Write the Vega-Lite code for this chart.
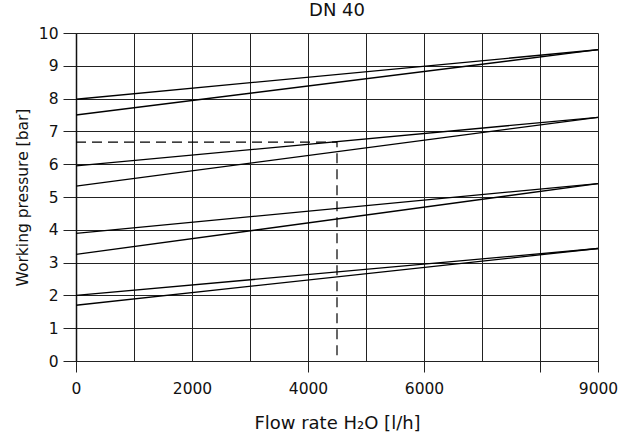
{
  "$schema": "https://vega.github.io/schema/vega-lite/v6.json",
  "width": 522,
  "height": 328,
  "autosize": {"type": "none"},
  "padding": {"left": 76, "top": 33, "right": 26, "bottom": 76},
  "background": "white",
  "config": {
    "font": "DejaVu Sans",
    "view": {"stroke": null},
    "axis": {"labelFont": "DejaVu Sans", "titleFont": "DejaVu Sans", "labelColor": "#111", "titleColor": "#111", "titleFontWeight": "normal", "labelFontSize": 15.5, "titleFontSize": 17.5, "labelOverlap": false}
  },
  "title": {"text": "DN 40", "fontSize": 18, "fontWeight": "normal", "font": "DejaVu Sans", "color": "#111", "anchor": "middle", "offset": 6},
  "datasets": {
    "curves": [
      {"series": "a1", "flow": 0, "pressure": 7.98},
      {"series": "a1", "flow": 9000, "pressure": 9.49},
      {"series": "a2", "flow": 0, "pressure": 7.5},
      {"series": "a2", "flow": 9000, "pressure": 9.49},
      {"series": "b1", "flow": 0, "pressure": 5.95},
      {"series": "b1", "flow": 9000, "pressure": 7.43},
      {"series": "b2", "flow": 0, "pressure": 5.33},
      {"series": "b2", "flow": 9000, "pressure": 7.43},
      {"series": "c1", "flow": 0, "pressure": 3.89},
      {"series": "c1", "flow": 9000, "pressure": 5.41},
      {"series": "c2", "flow": 0, "pressure": 3.25},
      {"series": "c2", "flow": 9000, "pressure": 5.41},
      {"series": "d1", "flow": 0, "pressure": 2.0},
      {"series": "d1", "flow": 9000, "pressure": 3.43},
      {"series": "d2", "flow": 0, "pressure": 1.7},
      {"series": "d2", "flow": 9000, "pressure": 3.43}
    ],
    "guide": [
      {"step": 1, "flow": 0, "pressure": 6.67},
      {"step": 2, "flow": 4500, "pressure": 6.67},
      {"step": 3, "flow": 4500, "pressure": 0}
    ]
  },
  "layer": [
    {
      "data": {"name": "curves"},
      "mark": {"type": "line", "color": "black", "strokeWidth": 1.3},
      "encoding": {
        "x": {
          "field": "flow", "type": "quantitative",
          "scale": {"domain": [0, 9000], "nice": false},
          "axis": {
            "title": "Flow rate H₂O [l/h]",
            "titleFontSize": 18,
            "values": [0, 1000, 2000, 3000, 4000, 5000, 6000, 7000, 8000, 9000],
            "format": "d",
            "labelExpr": "indexof([0, 2000, 4000, 6000, 9000], datum.value) >= 0 ? datum.label : ''",
            "grid": true, "gridColor": "#222", "gridOpacity": 1, "gridWidth": 1,
            "domain": true, "domainColor": "#222", "domainWidth": 1,
            "ticks": true, "tickSize": 11, "tickColor": "#222",
            "tickOpacity": {"condition": {"test": "indexof([0, 4000, 6000, 8000, 9000], datum.value) >= 0", "value": 1}, "value": 0},
            "labelPadding": 9, "titlePadding": 18, "labelFlush": false
          }
        },
        "y": {
          "field": "pressure", "type": "quantitative",
          "scale": {"domain": [0, 10], "nice": false},
          "axis": {
            "title": "Working pressure [bar]",
            "titleFontSize": 15.5,
            "values": [0, 1, 2, 3, 4, 5, 6, 7, 8, 9, 10],
            "tickCount": 11,
            "grid": true, "gridColor": "#222", "gridOpacity": 1, "gridWidth": 1,
            "domain": true, "domainColor": "#111", "domainWidth": 1.5,
            "ticks": true, "tickSize": 13, "tickColor": "#222",
            "labelPadding": 5, "titlePadding": 8
          }
        },
        "detail": {"field": "series"}
      }
    },
    {
      "data": {"name": "guide"},
      "mark": {"type": "line", "color": "black", "strokeWidth": 1.2, "strokeDash": [10, 6]},
      "encoding": {
        "x": {"field": "flow", "type": "quantitative"},
        "y": {"field": "pressure", "type": "quantitative"},
        "order": {"field": "step"}
      }
    }
  ]
}
